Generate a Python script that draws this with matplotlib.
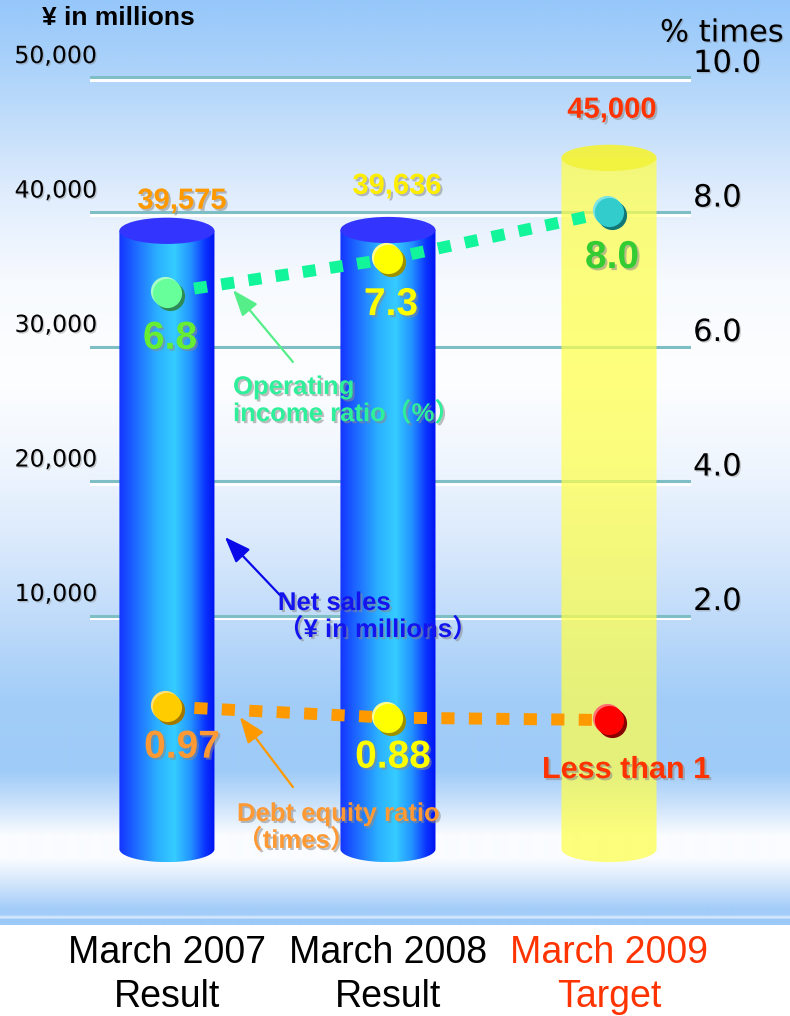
import numpy as np
import matplotlib
matplotlib.use("Agg")
import matplotlib.pyplot as plt
import matplotlib.patheffects as pe
import matplotlib.transforms as mtransforms
from matplotlib.colors import LinearSegmentedColormap, to_rgb
from matplotlib.patches import Ellipse, Polygon

# ---------------- data ----------------
periods = ["March 2007\nResult", "March 2008\nResult", "March 2009\nTarget"]
period_colors = ["black", "black", "#ff3300"]
net_sales = [39575, 39636, 45000]            # ¥ in millions
net_sales_labels = ["39,575", "39,636", "45,000"]
operating_ratio = [6.8, 7.3, 8.0]            # %
operating_labels = ["6.8", "7.3", "8.0"]
debt_equity = [0.97, 0.88, 0.86]             # times
debt_equity_labels = ["0.97", "0.88", "Less than 1"]
sales_ticks = [10000, 20000, 30000, 40000, 50000]
ratio_ticks = [2.0, 4.0, 6.0, 8.0, 10.0]

# ---------------- figure ----------------
W, H, DPI = 790, 1016, 100
plt.rcParams['font.family'] = ['Liberation Sans', 'DejaVu Sans', 'Noto Sans CJK JP']
fig = plt.figure(figsize=(W / DPI, H / DPI), dpi=DPI, facecolor='white')

# sky-like vertical backdrop
BG_H = 925
stops = [(0, '#96c7fa'), (60, '#a9d1fa'), (130, '#c6dffb'), (200, '#e2eefd'),
         (280, '#f7fafe'), (380, '#fdfeff'), (460, '#f0f6fe'), (540, '#dbeafc'),
         (620, '#bfdbfa'), (700, '#a2cdf8'), (770, '#9fcbf8'), (805, '#cde3fb'),
         (835, '#fafcff'), (858, '#fafcff'), (885, '#cfe4fb'), (908, '#a3cdf8'),
         (914, '#a3cdf8'), (917, '#d8eafc'), (919, '#9cc9f8'), (925, '#9cc9f8')]
rows = np.arange(BG_H)
sp = np.array([s[0] for s in stops], dtype=float)
sc = np.array([to_rgb(s[1]) for s in stops])
grad = np.stack([np.interp(rows, sp, sc[:, k]) for k in range(3)], axis=1)
bg = fig.add_axes([0, 1 - BG_H / H, 1, BG_H / H])
bg.imshow(grad[:, None, :], aspect='auto', interpolation='bilinear')
bg.set_axis_off()

# main axes (net sales, left scale)
AX_L, AX_R, AX_B = 90, 691, 920
ax = fig.add_axes([AX_L / W, 1 - AX_B / H, (AX_R - AX_L) / W, AX_B / H])
ax.patch.set_visible(False)
SALES_LIM = (-12639, 55762)
XLIM = (-0.348, 2.371)

ax2 = ax.twinx()     # ratio scale (% / times), right side
ax_de = ax.twinx()   # debt equity ratio placement
for a in (ax, ax2, ax_de):
    for s in a.spines.values():
        s.set_visible(False)
    a.set_autoscale_on(False)

shadow = [pe.withSimplePatchShadow(offset=(1.5, -1.5), shadow_rgbFace='#8a8a8a', alpha=0.55)]
tick_shadow = [pe.withSimplePatchShadow(offset=(1.0, -1.0), shadow_rgbFace='#7a7a7a', alpha=0.35)]

# ---------------- cylinders ----------------
BAR_W = 0.43
CAP_H = 1950
BASE = -7360
x = np.arange(len(net_sales))
body_cmap = LinearSegmentedColormap.from_list(
    'cyl', [(0.0, '#1434ff'), (0.18, '#1e6cff'), (0.4, '#2bb0ff'), (0.58, '#35ccff'),
            (0.75, '#2392ff'), (0.9, '#0c34ff'), (1.0, '#0012f0')])
hgrad = np.linspace(0, 1, 256).reshape(1, -1)
t = np.linspace(np.pi, 2 * np.pi, 80)

for i, (xc, val) in enumerate(zip(x, net_sales)):
    x0, x1 = xc - BAR_W / 2, xc + BAR_W / 2
    top = val - CAP_H / 2
    arc = list(zip(xc + BAR_W / 2 * np.cos(t), BASE + CAP_H / 2 * np.sin(t)))
    outline = [(x0, top)] + arc + [(x1, top)]
    if i < 2:
        body = Polygon(outline, closed=True, facecolor='none', edgecolor='none')
        ax.add_patch(body)
        im = ax.imshow(hgrad, cmap=body_cmap, aspect='auto', interpolation='bilinear',
                       extent=(x0, x1, BASE - CAP_H / 2, top), zorder=2)
        im.set_clip_path(body)
        ax.add_patch(Ellipse((xc, top), BAR_W, CAP_H, facecolor='#3434ff',
                             edgecolor='none', zorder=3))
    else:
        ax.add_patch(Polygon(outline, closed=True, facecolor='#ffff4a', alpha=0.72,
                             edgecolor='none', zorder=2))
        ax.add_patch(Ellipse((xc, top), BAR_W, CAP_H, facecolor='#f2f23e', alpha=0.95,
                             edgecolor='none', zorder=3))

sales_colors = ['#ff9900', '#ffee00', '#ff3300']
sales_offsets = [(15, 17), (9, 31), (3, 35)]   # pixels
for xc, val, lab, col, (dx, dy) in zip(x, net_sales, net_sales_labels, sales_colors, sales_offsets):
    ax.annotate(lab, (xc, val), xytext=(dx * 0.72, dy * 0.72), textcoords='offset points',
                ha='center', va='center', fontsize=21, fontweight='bold', color=col,
                path_effects=shadow, zorder=6)

# ---------------- axes / grid ----------------
ax.set_xlim(*XLIM)
ax.set_ylim(*SALES_LIM)
ax.set_yticks(sales_ticks, labels=[f"{v:,}" for v in sales_ticks])
ax.yaxis.grid(True, color='#7dbfc4', lw=2.2, zorder=0.5)
ax.set_axisbelow(True)
for gl in ax.get_ygridlines():
    gl.set_path_effects([pe.SimpleLineShadow(offset=(0, -1.8), shadow_color='white', alpha=1.0),
                         pe.Normal()])
ax.tick_params(axis='y', length=0, pad=-5, labelsize=17, labelfontfamily='DejaVu Sans')
ax.set_xticks(x, labels=periods)
ax.tick_params(axis='x', length=0, pad=11, labelsize=27)
for lbl, col in zip(ax.get_xticklabels(), period_colors):
    lbl.set_color(col)
    lbl.set_linespacing(1.28)
for lbl in ax.get_yticklabels():
    lbl.set_transform(lbl.get_transform() +
                      mtransforms.ScaledTranslation(0, 24 / DPI, fig.dpi_scale_trans))
    lbl.set_path_effects(tick_shadow)

ax2.set_ylim(SALES_LIM[0] / 5000, SALES_LIM[1] / 5000)
ax2.set_yticks(ratio_ticks, labels=[f"{v:.1f}" for v in ratio_ticks])
ax2.tick_params(axis='y', length=0, pad=1.5, labelsize=22, labelfontfamily='DejaVu Sans')
for lbl in ax2.get_yticklabels():
    lbl.set_transform(lbl.get_transform() +
                      mtransforms.ScaledTranslation(0, 17 / DPI, fig.dpi_scale_trans))
    lbl.set_path_effects(tick_shadow)

ax_de.set_ylim(-0.779, 6.762)
ax_de.set_yticks([])


# ---------------- ratio markers ----------------
def sphere(axis, xv, yv, main, light, dark):
    for dx, dy, col, z in [(2.0, -2.2, dark, 7), (-1.3, 1.3, light, 8), (0.3, -0.3, main, 9)]:
        tr = axis.transData + mtransforms.ScaledTranslation(dx / 72, dy / 72, fig.dpi_scale_trans)
        axis.plot([xv], [yv], 'o', ms=21, color=col, mec='none', transform=tr, zorder=z)


ax2.plot(x, operating_ratio, color='#12f59a', lw=8.6, dashes=(1.1, 1.2), zorder=5)
op_style = [('#66ff99', '#a8ffc8', '#2e8b57'), ('#ffff00', '#ffff90', '#9a9000'),
            ('#33cccc', '#80e4e4', '#117777')]
for xv, yv, st in zip(x, operating_ratio, op_style):
    sphere(ax2, xv, yv, *st)
op_colors = ['#66ee33', '#ffff00', '#33cc33']
for xv, yv, lab, col in zip(x, operating_ratio, operating_labels, op_colors):
    ax2.annotate(lab, (xv, yv), xytext=(3 * 0.72, -46 * 0.72), textcoords='offset points',
                 ha='center', va='center', fontsize=28, fontweight='bold', color=col,
                 path_effects=shadow, zorder=10)

ax_de.plot(x, debt_equity, color='#ff9900', lw=8.6, dashes=(1.1, 1.2), zorder=5)
de_style = [('#ffcc00', '#ffe070', '#a07800'), ('#ffff00', '#ffff90', '#9a9000'),
            ('#ff0000', '#ff7070', '#880000')]
for xv, yv, st in zip(x, debt_equity, de_style):
    sphere(ax_de, xv, yv, *st)
de_colors = ['#ff9933', '#ffff00', '#ff3300']
de_sizes = [28, 28, 22]
de_offsets = [(15, -41), (5, -40), (17, -50)]   # pixels
for xv, yv, lab, col, fs, (dx, dy) in zip(x, debt_equity, debt_equity_labels, de_colors,
                                          de_sizes, de_offsets):
    ax_de.annotate(lab, (xv, yv), xytext=(dx * 0.72, dy * 0.72), textcoords='offset points',
                   ha='center', va='center', fontsize=fs, fontweight='bold', color=col,
                   path_effects=shadow, zorder=10)

# ---------------- callouts ----------------
fam = ['Liberation Sans', 'Noto Sans CJK JP']
arrow = dict(arrowstyle='-|>,head_length=0.8,head_width=0.3', mutation_scale=20,
             lw=1.6, shrinkA=0, shrinkB=0)

ax2.annotate('', xy=(0.299, 6.84), xytext=(0.570, 5.77),
             arrowprops=dict(arrow, color='#55ee88'), zorder=6)
ax2.text(0.299, 5.575, "Operating\nincome ratio（%）", ha='left', va='top',
         fontsize=18.5, fontweight='bold', color='#2ef09a', family=fam,
         linespacing=1.12, path_effects=shadow, zorder=10)

ax.annotate('', xy=(0.262, 15836), xytext=(0.511, 11524),
            arrowprops=dict(arrow, color='#0a0ae8'), zorder=6)
ax.text(0.502, 11822, "Net sales\n（¥ in millions）", ha='left', va='top',
        fontsize=18.5, fontweight='bold', color='#1414ee', family=fam,
        linespacing=1.12, path_effects=shadow, zorder=10)

ax_de.annotate('', xy=(0.330, 0.885), xytext=(0.570, 0.311),
               arrowprops=dict(arrow, color='#ff9900'), zorder=6)
ax_de.text(0.317, 0.189, "Debt equity ratio\n（times）", ha='left', va='top',
           fontsize=18.5, fontweight='bold', color='#ff9933', family=fam,
           linespacing=1.12, path_effects=shadow, zorder=10)

ax_de.set_xlim(*XLIM)
ax2.set_xlim(*XLIM)

# ---------------- axis titles ----------------
fig.text(42 / W, 1 - 18 / H, "¥ in millions", fontsize=19, fontweight='bold',
         ha='left', va='center')
fig.text(660 / W, 1 - 33 / H, "% times", fontsize=22, family='DejaVu Sans',
         ha='left', va='center', path_effects=tick_shadow)

fig.savefig("out.png", dpi=DPI, facecolor='white')
